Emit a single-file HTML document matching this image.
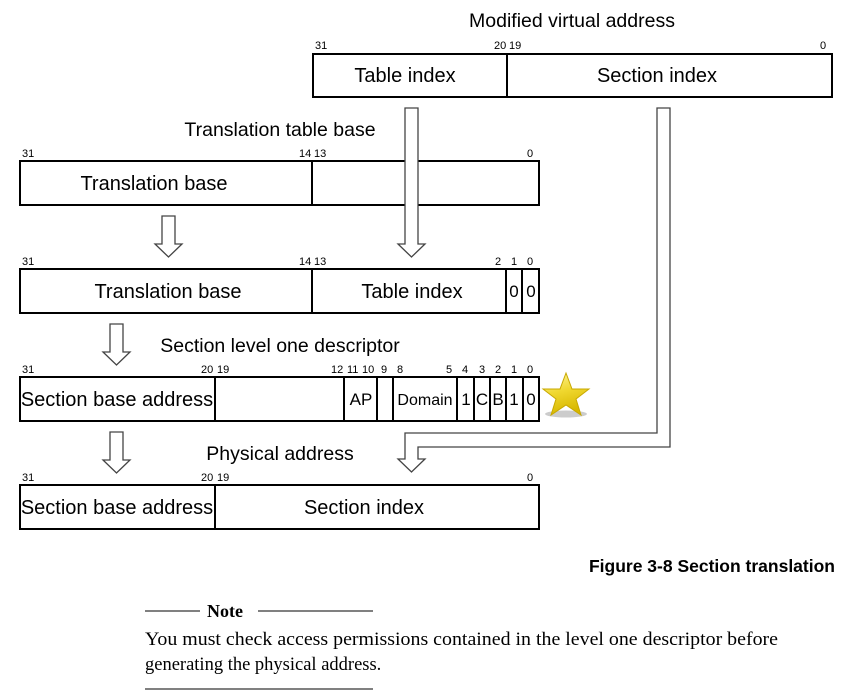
<!DOCTYPE html>
<html><head><meta charset="utf-8"><style>
html,body{margin:0;padding:0;background:#fff;width:866px;height:698px;overflow:hidden}
svg text{font-family:"Liberation Sans",Arial,sans-serif;fill:#000}
.t{font-size:19.5px}
.l{font-size:20px}
.b{font-size:11px}
.s{font-size:16px}
.m{font-size:17px}
</style></head><body>
<svg width="866" height="698" viewBox="0 0 866 698" xmlns="http://www.w3.org/2000/svg">
<g fill="#fff" stroke="#000" stroke-width="2">
<rect x="313" y="54" width="519" height="43"/>
<line x1="507" y1="54" x2="507" y2="97"/>
<rect x="20" y="161" width="519" height="44"/>
<line x1="312" y1="161" x2="312" y2="205"/>
<rect x="20" y="269" width="519" height="44"/>
<line x1="312" y1="269" x2="312" y2="313"/>
<line x1="506" y1="269" x2="506" y2="313"/>
<line x1="522" y1="269" x2="522" y2="313"/>
<rect x="20" y="377" width="519" height="44"/>
<line x1="215" y1="377" x2="215" y2="421"/>
<line x1="344" y1="377" x2="344" y2="421"/>
<line x1="377" y1="377" x2="377" y2="421"/>
<line x1="393" y1="377" x2="393" y2="421"/>
<line x1="457" y1="377" x2="457" y2="421"/>
<line x1="474" y1="377" x2="474" y2="421"/>
<line x1="490" y1="377" x2="490" y2="421"/>
<line x1="506" y1="377" x2="506" y2="421"/>
<line x1="523" y1="377" x2="523" y2="421"/>
<rect x="20" y="485" width="519" height="44"/>
<line x1="215" y1="485" x2="215" y2="529"/>
</g>
<g fill="#fff" stroke="#444" stroke-width="1.3">
<polygon points="405,108 418,108 418,244 425,244 411.5,257 398,244 405,244"/>
<polygon points="657,108 670,108 670,447 418,447 418,459 425,459 411.5,472 398,459 405,459 405,433 657,433"/>
<polygon points="162,216 175,216 175,244 182,244 168.5,257 155,244 162,244"/>
<polygon points="110,324 123,324 123,352 130,352 116.5,365 103,352 110,352"/>
<polygon points="110,432 123,432 123,460 130,460 116.5,473 103,460 110,460"/>
</g>
<defs><linearGradient id="g" x1="0" y1="0" x2="0.3" y2="1"><stop offset="0" stop-color="#fff6a0"/><stop offset="0.5" stop-color="#f0d830"/><stop offset="1" stop-color="#d8b800"/></linearGradient></defs>
<ellipse cx="566" cy="414" rx="21" ry="3.5" fill="#ccc"/>
<polygon points="566,373 572,389 589,389 576,399 581,415 566,405 551,415 556,399 543,389 560,389" fill="url(#g)" stroke="#c8a800" stroke-width="1"/>
<text class="t" x="572" y="27" text-anchor="middle">Modified virtual address</text>
<text class="t" x="280" y="136" text-anchor="middle">Translation table base</text>
<text class="t" x="280" y="352" text-anchor="middle">Section level one descriptor</text>
<text class="t" x="280" y="460" text-anchor="middle">Physical address</text>
<text class="b" x="315" y="49">31</text><text class="b" x="494" y="49">20</text><text class="b" x="509" y="49">19</text><text class="b" x="820" y="49">0</text>
<text class="b" x="22" y="157">31</text><text class="b" x="299" y="157">14</text><text class="b" x="314" y="157">13</text><text class="b" x="527" y="157">0</text>
<text class="b" x="22" y="265">31</text><text class="b" x="299" y="265">14</text><text class="b" x="314" y="265">13</text><text class="b" x="495" y="265">2</text><text class="b" x="511" y="265">1</text><text class="b" x="527" y="265">0</text>
<text class="b" x="22" y="373">31</text><text class="b" x="201" y="373">20</text><text class="b" x="217" y="373">19</text><text class="b" x="331" y="373">12</text><text class="b" x="347" y="373">11</text><text class="b" x="362" y="373">10</text><text class="b" x="381" y="373">9</text><text class="b" x="397" y="373">8</text><text class="b" x="446" y="373">5</text><text class="b" x="462" y="373">4</text><text class="b" x="479" y="373">3</text><text class="b" x="495" y="373">2</text><text class="b" x="511" y="373">1</text><text class="b" x="527" y="373">0</text>
<text class="b" x="22" y="481">31</text><text class="b" x="201" y="481">20</text><text class="b" x="217" y="481">19</text><text class="b" x="527" y="481">0</text>
<text class="l" x="405" y="82" text-anchor="middle">Table index</text>
<text class="l" x="657" y="82" text-anchor="middle">Section index</text>
<text class="l" x="154" y="190" text-anchor="middle">Translation base</text>
<text class="l" x="168" y="298" text-anchor="middle">Translation base</text>
<text class="l" x="412" y="298" text-anchor="middle">Table index</text>
<text class="m" x="514" y="297" text-anchor="middle">0</text><text class="m" x="531" y="297" text-anchor="middle">0</text>
<text class="l" x="117" y="406" text-anchor="middle">Section base address</text>
<text class="m" x="361" y="405" text-anchor="middle">AP</text>
<text class="s" x="425" y="405" text-anchor="middle">Domain</text>
<text class="m" x="466" y="405" text-anchor="middle">1</text>
<text class="m" x="482" y="405" text-anchor="middle">C</text>
<text class="m" x="498" y="405" text-anchor="middle">B</text>
<text class="m" x="514" y="405" text-anchor="middle">1</text>
<text class="m" x="531" y="405" text-anchor="middle">0</text>
<text class="l" x="117" y="514" text-anchor="middle">Section base address</text>
<text class="l" x="364" y="514" text-anchor="middle">Section index</text>
<text x="835" y="572" text-anchor="end" style="font-size:17.5px;font-weight:bold">Figure 3-8 Section translation</text>
<line x1="145" y1="611" x2="200" y2="611" stroke="#000" stroke-width="1"/>
<line x1="258" y1="611" x2="373" y2="611" stroke="#000" stroke-width="1"/>
<line x1="145" y1="689" x2="373" y2="689" stroke="#000" stroke-width="1"/>
<text x="207" y="617" style="font-size:18px;font-weight:bold;font-family:'Liberation Serif',serif">Note</text>
<text x="145" y="645" textLength="633" lengthAdjust="spacingAndGlyphs" style="font-size:18.5px;font-family:'Liberation Serif',serif">You must check access permissions contained in the level one descriptor before</text>
<text x="145" y="670" style="font-size:18.5px;font-family:'Liberation Serif',serif">generating the physical address.</text>
</svg>
</body></html>
